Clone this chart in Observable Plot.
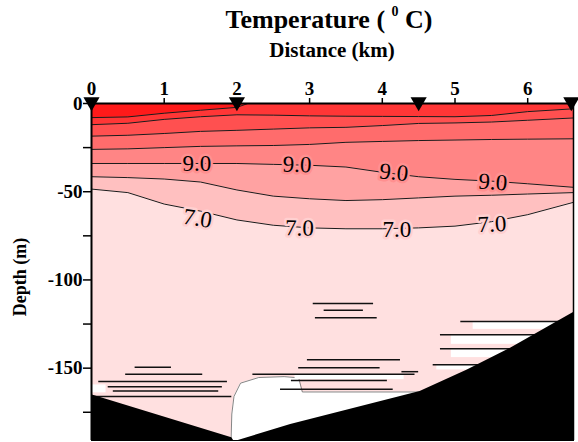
<!DOCTYPE html>
<html><head><meta charset="utf-8">
<script src="https://cdn.jsdelivr.net/npm/d3@7"></script>
<script src="https://cdn.jsdelivr.net/npm/@observablehq/plot@0.6"></script>
<style>
body{margin:0;background:#fff;}
#wrap{position:relative;width:578px;height:442px;font-family:"Liberation Serif","Times New Roman",serif;font-weight:bold;color:#000;}
#title{position:absolute;left:129px;width:400px;top:7px;text-align:center;font-size:26px;line-height:26px;white-space:nowrap;}
#title .sup{display:inline-block;font-size:14px;line-height:14px;position:relative;top:-12px;}
#xlab{position:absolute;left:182px;width:300px;top:40px;text-align:center;font-size:21px;line-height:21px;}
#ylab{position:absolute;left:20px;top:277px;font-size:18px;line-height:18px;white-space:nowrap;transform:translate(-50%,-50%) rotate(-90deg);}
#chart{position:absolute;left:0;top:0;}
</style></head>
<body>
<div id="wrap">
  <div id="chart"></div>
  <div id="title">Temperature ( <span class="sup">0</span> C)</div>
  <div id="xlab">Distance (km)</div>
  <div id="ylab">Depth (m)</div>
</div>
<script>
// Distance axis (km) and depth (m)
const distTicks = [0, 1, 2, 3, 4, 5, 6];
const depthTicks = [0, -50, -100, -150];
const depthMinor = [-25, -75, -125, -175];
const xMax = 6.63;
const depthMin = -191;

// Station positions (km)
const stations = [0, 2.0, 4.5, 6.6];

// Contour lines (depth in m) sampled at these distances
const dist = [0, 0.5, 1, 1.5, 2, 2.5, 3, 3.5, 4, 4.5, 5, 5.5, 6, 6.63];
const dist13 = [0, 0.5, 1, 1.5, 2, 2.15];
const t13 = [-8, -7.6, -5.5, -3.8, -2.2, 0];
const t12 = [-12, -11.2, -9, -7.5, -6.4, -6.6, -7, -7.2, -7.3, -7.4, -7.5, -6.8, -4.6, -3];
const t11 = [-18.5, -18, -17, -15.8, -15.2, -14.5, -13.8, -13.5, -12.5, -11.3, -11, -10.5, -9.5, -8.2];
const t10 = [-26, -25.7, -25, -24.3, -24, -23.8, -23.2, -22, -21.5, -21, -20.7, -20.4, -20.2, -20];
const t9  = [-34, -34, -34, -34, -34, -34.5, -35, -36, -39, -41.5, -43, -44, -45.5, -47.5];
const t8  = [-41.5, -42, -42.8, -44.5, -49, -52.5, -54, -55, -54.5, -53.5, -52.5, -52, -51.3, -50.5];
const t7  = [-48.5, -50.5, -57, -61, -66, -69, -70.5, -71, -71, -70.5, -69.5, -67, -63, -56];

// Band colours (6-7, 7-8, 8-9, 9-10, 10-11, 11-12, 12-13, >13 °C)
const bandColors = ["#ffe0e0", "#ffc0c0", "#ffa2a2", "#ff8585", "#ff6c6c", "#ff5050", "#ff3636", "#ff1a1a"];

// Contour labels
const lab9X = [1.45, 2.83, 4.16, 5.52];
const lab9D = [-34.3, -34.6, -39, -44.6];
const lab9R = [0, 2, 6, 4];
const lab7X = [1.46, 2.86, 4.2, 5.51];
const lab7D = [-65.2, -70.6, -71.3, -68.4];
const lab7R = [9, 1, 0, -3];

// Cold bottom water (< 6 °C) region
const coldX = [1.92, 1.93, 1.96, 2.05, 2.3, 2.65, 2.85, 2.9, 4.55];
const coldD = [-191, -176, -166, -158.5, -155.3, -154.8, -155.5, -163.5, -163.5];
const coldRectX1 = [5.25, 4.95, 4.95, 4.75, 0, 2.8];
const coldRectX2 = [6.63, 6.63, 6.63, 6.63, 0.2, 4.3];
const coldRectTop = [-123.8, -131.3, -139.5, -148.3, -159.5, -153.7];
const coldRectBot = [-128, -136.5, -144, -151, -164, -156.5];

// Contour fragments near the bottom
const fragX1 = [3.05, 3.2, 3.08, 2.97, 2.85, 2.22, 2.75, 2.6, 5.08, 4.8, 4.8, 4.7, 4.27, 0.6, 0.47, 0.1, 0.23, 0.3, 0.0];
const fragX2 = [3.88, 3.74, 3.93, 4.25, 3.97, 4.45, 4.07, 4.15, 6.45, 6.2, 5.8, 5.5, 4.5, 1.1, 1.53, 1.87, 1.8, 1.75, 1.93];
const fragD  = [-113.3, -117.2, -121.5, -145.3, -149.8, -153.5, -157, -162, -123.5, -131, -139, -148, -152, -149.5, -153.5, -157.5, -160.5, -163, -166];

// Bathymetry
const bathX = [0, 1.93, 1.97, 2.02, 2.74, 4.52, 5.17, 5.77, 6.63];
const bathD = [-165, -189.5, -192, -191, -182, -163.2, -151, -138.6, -118.5];

const rows = dist.map((d, i) => ({d, t12: t12[i], t11: t11[i], t10: t10[i], t9: t9[i], t8: t8[i], t7: t7[i]}));
const rows13 = dist13.map((d, i) => ({d, t13: t13[i]}));
const levels = ["t7", "t8", "t9", "t10", "t11", "t12"];
const labels9 = lab9X.map((x, i) => ({x, y: lab9D[i], r: lab9R[i]}));
const labels7 = lab7X.map((x, i) => ({x, y: lab7D[i], r: lab7R[i]}));
const cold = coldX.map((x, i) => ({x, y: coldD[i]}));
const coldRects = coldRectX1.map((x1, i) => ({x1, x2: coldRectX2[i], y1: coldRectBot[i], y2: coldRectTop[i]}));
const frags = fragX1.map((a, i) => ({a, b: fragX2[i], d: fragD[i]}));
const bath = bathX.map((x, i) => ({x, y: bathD[i]}));

const marks = [
  Plot.rect([0], {x1: 0, x2: xMax, y1: depthMin, y2: 0, fill: bandColors[0]}),
];
levels.forEach((k, i) => {
  marks.push(Plot.areaY(rows, {x: "d", y1: 0, y2: k, fill: bandColors[i + 1], clip: true}));
});
marks.push(Plot.areaY(rows13, {x: "d", y1: 0, y2: "t13", fill: bandColors[7], clip: true}));
levels.forEach(k => {
  marks.push(Plot.line(rows, {x: "d", y: k, stroke: "#1a1a1a", strokeWidth: 1, clip: true}));
});
marks.push(Plot.line(rows13, {x: "d", y: "t13", stroke: "#1a1a1a", strokeWidth: 1, clip: true}));
// cold water
marks.push(Plot.areaY(cold, {x: "x", y1: depthMin, y2: "y", fill: "white", clip: true}));
marks.push(Plot.line(cold, {x: "x", y: "y", stroke: "#666", strokeWidth: 0.8, clip: true}));
marks.push(Plot.rect(coldRects, {x1: "x1", x2: "x2", y1: "y1", y2: "y2", fill: "white", clip: true}));
marks.push(Plot.ruleY(frags, {y: "d", x1: "a", x2: "b", stroke: "#111", strokeWidth: 1.5, clip: true}));
// bathymetry
marks.push(Plot.areaY(bath, {x: "x", y1: depthMin, y2: "y", fill: "black", clip: true}));
// labels
marks.push(Plot.text(labels9, {x: "x", y: "y", text: () => "9.0", rotate: "r", fontSize: 23, fontWeight: "normal",
  fill: "#000", stroke: "#ff9090", strokeWidth: 5, paintOrder: "stroke"}));
marks.push(Plot.text(labels7, {x: "x", y: "y", text: () => "7.0", rotate: "r", fontSize: 23, fontWeight: "normal",
  fill: "#000", stroke: "#ffd0d0", strokeWidth: 5, paintOrder: "stroke"}));
// frame & axes
marks.push(Plot.frame({stroke: "#000", strokeWidth: 1}));
marks.push(Plot.ruleX([0], {stroke: "#000", strokeWidth: 2}));
marks.push(Plot.ruleY([0], {stroke: "#000", strokeWidth: 2}));
marks.push(Plot.ruleX([xMax], {stroke: "#000", strokeWidth: 1.5}));
marks.push(Plot.axisX({anchor: "top", ticks: distTicks, tickSize: 6, tickPadding: 3, tickFormat: d => String(d), label: null, strokeWidth: 1.5}));
marks.push(Plot.axisY({ticks: depthTicks, tickSize: 8, tickPadding: 1, tickFormat: d => String(d), label: null, strokeWidth: 1.5}));
marks.push(Plot.axisY({ticks: depthMinor, tickSize: 8, tickFormat: () => "", label: null, strokeWidth: 1.5}));
marks.push(Plot.dot(stations, {x: d => d, y: 0, symbol: "triangle", rotate: 180, r: 6, fill: "#000", stroke: "none", dy: -1.5}));

const chart = Plot.plot({
  width: 578, height: 442,
  marginLeft: 91, marginRight: 5, marginTop: 103, marginBottom: 2,
  x: {domain: [0, xMax]},
  y: {domain: [depthMin, 0]},
  style: {fontFamily: "'Liberation Serif','Times New Roman',serif", fontSize: "19px", fontWeight: "bold", background: "white", overflow: "visible"},
  marks
});
document.getElementById("chart").appendChild(chart);
</script>
</body></html>
